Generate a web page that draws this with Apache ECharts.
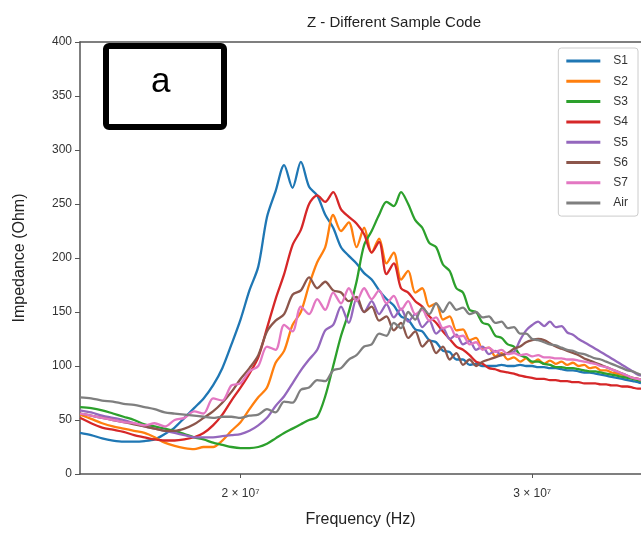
<!DOCTYPE html>
<html><head><meta charset="utf-8">
<script src="https://cdn.jsdelivr.net/npm/echarts@6/dist/echarts.min.js"></script>
<style>html,body{margin:0;padding:0;background:#fff}#c{width:641px;height:535px}</style>
</head><body><div id="c"></div>
<script>
// Frequency grid (Hz)
const freqs = [16.00e6,16.25e6,16.50e6,16.75e6,17.00e6,17.25e6,17.50e6,17.75e6,
 18.00e6,18.25e6,18.50e6,18.75e6,19.00e6,19.25e6,19.50e6,19.75e6,
 20.00e6,20.25e6,20.50e6,20.75e6,21.00e6,21.25e6,21.50e6,21.75e6,
 22.00e6,22.25e6,22.50e6,22.75e6,23.00e6,23.25e6,23.50e6,23.75e6,
 24.00e6,24.25e6,24.50e6,24.75e6,25.00e6,25.25e6,25.50e6,25.75e6,
 26.00e6,26.25e6,26.50e6,26.75e6,27.00e6,27.25e6,27.50e6,27.75e6,
 28.00e6,28.25e6,28.50e6,28.75e6,29.00e6,29.25e6,29.50e6,29.75e6,
 30.00e6,30.25e6,30.50e6,30.75e6,31.00e6,31.25e6,31.50e6,31.75e6,
 32.00e6,32.25e6,32.50e6,32.75e6,33.00e6,33.25e6,33.50e6,33.75e6,
 34.00e6,34.25e6,34.50e6,34.75e6,34.90e6];

const S1 = [38,36,33,31,30,30,30.5,32, 37,43,52,61,70,82,98,120,
 143,170,192,238,262,286,265,289, 266,258,240,228,210,202,195,186,
 180,170,162,156,146,143,134,132, 124,122,114,113,106,106,101,102,
 100,100,100,101,100,100,101,100, 100,99,99,98,98,97,96,96,
 95,94,94,93,92,91,90,89, 88,87,86,85,84];
const S2 = [55,51,47,44,42,40,38,34, 29,26,24,23,25,25,31,40,
 48,60,71,80,103,114,138,150, 175,196,210,240,225,233,210,228,
 205,218,195,205,180,188,168,172, 155,158,143,146,133,134,124,126,
 116,117,109,112,106,108,104,107, 103,106,102,105,102,104,101,103,
 100,101,98,99,96,96,94,93, 92,90,89,88,87];
const S3 = [62,61,59,56,53,50,46,44, 42,40,37,34,32,29,27,25,
 24,24,25,28,33,38,42,46, 50,53,72,100,128,150,178,212,
 225,240,252,248,261,250,235,228, 214,210,194,188,172,168,152,150,
 140,138,128,126,120,118,110,108, 104,104,102,101,99,99,98,98,
 97,96,95,95,94,93,92,91, 90,89,88,87,86];
const S4 = [52,47,43,41,39,36,34,32, 31,31,32,34,38,45,55,68,
 80,93,108,135,162,185,212,226, 250,258,252,261,245,238,232,222,
 205,215,185,195,172,168,160,155, 146,140,132,125,118,115,110,104,
 102,98,97,95,94,93,91,90, 89,88,88,87,87,86,86,85,
 85,84,84,84,83,83,82,82, 81,81,80,79,79];
const S5 = [59,57,54,52,50,47,44,42, 40,38,36,34,34,34,35,36,
 37,40,45,52,63,72,84,96, 106,115,133,138,155,140,162,150,
 160,148,157,145,153,141,148,136, 142,130,135,125,129,120,123,115,
 118,111,114,110,112,113,124,133, 138,141,137,141,136,137,131,129,
 125,122,119,116,113,110,107,104, 101,98,95,92,91];
const S6 = [56,54,52,50,48,46,44,42, 40,40,42,46,52,58,66,76,
 88,98,110,132,142,148,166,170, 182,172,178,170,168,160,164,150,
 155,142,146,133,140,126,132,118, 124,112,118,106,112,101,106,100,
 104,106,108,110,112,116,118,122, 124,125,124,121,118,116,114,112,
 110,107,105,103,101,99,97,95, 93,91,89,88,87];
const S7 = [56,54,52,50,48,47,45,47, 44,50,52,58,56,70,68,82,
 84,95,100,118,115,138,132,155, 148,162,152,168,158,172,160,172,
 162,170,158,165,152,160,148,152, 142,145,135,137,127,128,120,122,
 115,117,113,115,111,112,110,111, 109,110,108,108,107,107,106,106,
 105,104,103,102,100,99,97,95, 93,91,89,88,87];
const Air = [71,70,68,67,65,64,62,60, 57,56,55,54,53,52,53,53,
 52,54,55,60,57,67,66,78, 80,87,86,96,98,106,110,118,
 120,130,128,140,135,150,143,154, 148,158,150,159,152,154,148,150,
 145,146,140,141,135,136,130,130, 125,124,122,120,119,117,115,114,
 112,111,109,107,106,104,102,100, 98,96,95,93,92];

const seriesNames = ['S1','S2','S3','S4','S5','S6','S7','Air'];
const seriesValues = [S1,S2,S3,S4,S5,S6,S7,Air];
const colors = ['#1f77b4','#ff7f0e','#2ca02c','#d62728','#9467bd','#8c564b','#e377c2','#7f7f7f'];
const xTicks = [2e7, 3e7];

const font = 'Liberation Sans, Arial, sans-serif';
const chart = echarts.init(document.getElementById('c'), null, {renderer:'canvas'});
chart.setOption({
  animation:false,
  backgroundColor:'#fff',
  color: colors,
  title:{text:'Z - Different Sample Code', left:389, top:10, textAlign:'center',
    textStyle:{fontSize:15, fontWeight:'normal', color:'#222', fontFamily:font}},
  grid:{left:80, right:0, top:42, bottom:61},
  legend:{orient:'vertical', right:3, top:48, data:seriesNames,
    icon:'rect', itemWidth:34, itemHeight:3, itemGap:6.3,
    backgroundColor:'#fff', borderColor:'#ccc', borderWidth:1, borderRadius:3,
    padding:[6,10,6,8],
    textStyle:{fontSize:12, color:'#333', lineHeight:14, fontFamily:font, padding:[0,0,0,8]}},
  xAxis:[{
    type:'log', logBase:10, min:16e6, max:34.9e6,
    name:'Frequency (Hz)', nameLocation:'middle', nameGap:38,
    nameTextStyle:{fontSize:16, color:'#222', fontFamily:font},
    axisLine:{lineStyle:{color:'#555', width:1.5}},
    axisTick:{show:true, customValues:xTicks, length:4, lineStyle:{color:'#555'}},
    axisLabel:{customValues:xTicks, fontSize:12, color:'#333', margin:14, fontFamily:font,
      formatter:v => Math.round(v/1e7) + ' \u00d7 10\u2077'},
    splitLine:{show:false}, minorTick:{show:false}
  },{
    type:'log', logBase:10, min:16e6, max:34.9e6, position:'top',
    axisLine:{show:true, lineStyle:{color:'#555', width:1.5}},
    axisTick:{show:false}, axisLabel:{show:false}, splitLine:{show:false}
  }],
  yAxis:{type:'value', min:0, max:400, interval:50,
    name:'Impedance (Ohm)', nameLocation:'middle', nameGap:52,
    nameTextStyle:{fontSize:16, color:'#222', fontFamily:font},
    axisLine:{show:true, lineStyle:{color:'#555', width:1.5}},
    axisTick:{show:true, length:5, lineStyle:{color:'#555'}},
    axisLabel:{fontSize:12, color:'#333', margin:8, fontFamily:font},
    splitLine:{show:false}},
  graphic:[
    {type:'rect', left:103, top:43, shape:{width:118, height:81, r:3},
     style:{fill:'#fff', stroke:'#000', lineWidth:6}, z:100},
    {type:'text', left:151, top:65, style:{text:'a', fontSize:35, fill:'#000', fontFamily:font}, z:101}
  ],
  series: seriesNames.map((n,i)=>({
    name:n, type:'line', xAxisIndex:0, showSymbol:false, smooth:0.3,
    lineStyle:{width:2.3, color:colors[i]},
    data: seriesValues[i].map((v,j)=>[freqs[j], v])
  }))
});
</script></body></html>
